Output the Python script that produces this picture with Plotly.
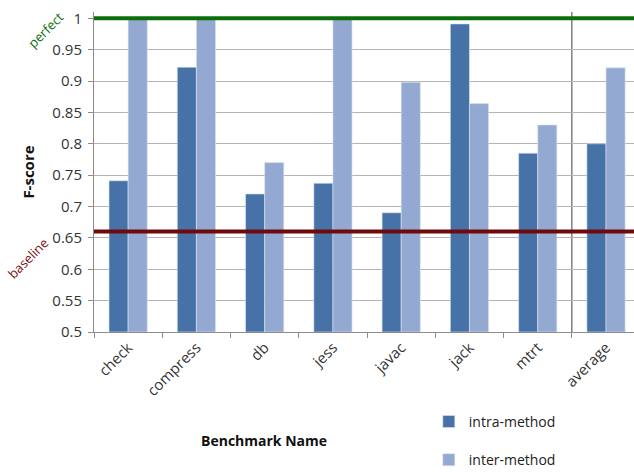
import plotly.graph_objects as go

categories = ["check", "compress", "db", "jess", "javac", "jack", "mtrt", "average"]
intra_method = [0.741, 0.922, 0.720, 0.737, 0.690, 0.991, 0.785, 0.800]
inter_method = [1.000, 1.000, 0.770, 1.000, 0.898, 0.864, 0.830, 0.921]
baseline_value = 0.66
perfect_value = 1.0
y_ticks = [0.5, 0.55, 0.6, 0.65, 0.7, 0.75, 0.8, 0.85, 0.9, 0.95, 1.0]
y_tick_labels = ["0.5", "0.55", "0.6", "0.65", "0.7", "0.75", "0.8", "0.85", "0.9", "0.95", "1"]

FONT = "Open Sans"

fig = go.Figure()
fig.add_trace(go.Bar(x=categories, y=[v - 0.5 for v in intra_method], base=0.5,
                     name="intra-method", marker=dict(color="#4672A8", line=dict(color="#DCE4F0", width=0.6)),
                     legendgroup="a"))
fig.add_trace(go.Bar(x=categories, y=[v - 0.5 for v in inter_method], base=0.5,
                     name="inter-method", marker=dict(color="#94A9D1", line=dict(color="#DCE4F0", width=0.6)),
                     legendgroup="b"))

# perfect and baseline lines
fig.add_shape(type="line", xref="paper", yref="y", x0=0, x1=1, y0=perfect_value, y1=perfect_value,
              line=dict(color="#0A6E0A", width=4), layer="above")
fig.add_shape(type="line", xref="paper", yref="y", x0=0, x1=1, y0=baseline_value, y1=baseline_value,
              line=dict(color="#6E0A0A", width=4), layer="above")
# separator before average
fig.add_shape(type="line", xref="x", yref="y", x0=6.5, x1=6.5, y0=0.5, y1=1.01,
              line=dict(color="#404040", width=1), layer="below")

fig.add_annotation(text="perfect", xref="paper", yref="paper", x=-0.135, y=1.02,
                   showarrow=False, textangle=-45, font=dict(family=FONT, size=13, color="#0A6E0A"))
fig.add_annotation(text="baseline", xref="paper", yref="paper", x=-0.172, y=0.145,
                   showarrow=False, textangle=-45, font=dict(family=FONT, size=13, color="#7A1010"))
fig.add_annotation(text="<b>Benchmark Name</b>", xref="paper", yref="paper", x=0.315, y=-0.34,
                   xanchor="center", yanchor="middle", showarrow=False,
                   font=dict(family=FONT, size=14, color="#111111"))

fig.update_layout(
    width=634, height=472,
    margin=dict(l=94, r=0, t=12, b=140),
    paper_bgcolor="white", plot_bgcolor="white",
    barmode="group", bargap=0.44, bargroupgap=0,
    font=dict(family=FONT, size=14, color="#333333"),
    showlegend=True,
    legend=dict(x=0.62, y=0.14, xanchor="left", yanchor="top", yref="container", tracegroupgap=17,
                font=dict(family=FONT, size=14, color="#222222"), bgcolor="rgba(0,0,0,0)"),
    xaxis=dict(type="category", range=[-0.5, 7.41], tickangle=-45, tickson="boundaries", automargin=False,
               ticks="outside", ticklen=5, tickcolor="#8c8c8c", showline=True, linecolor="#8c8c8c",
               showgrid=False, tickfont=dict(family=FONT, size=15, color="#333333")),
    yaxis=dict(range=[0.5, 1.01], tickvals=y_ticks, ticktext=y_tick_labels, ticks="outside", automargin=False,
               ticklen=5, tickcolor="#8c8c8c", showline=True, linecolor="#8c8c8c",
               showgrid=True, gridcolor="#b4b4b4", zeroline=False, ticklabelstandoff=3,
               tickfont=dict(family=FONT, size=15, color="#333333"),
               title=dict(text="<b>F-score</b>", font=dict(family=FONT, size=15, color="#111111"), standoff=14)),
)

fig.write_html("out.html")
